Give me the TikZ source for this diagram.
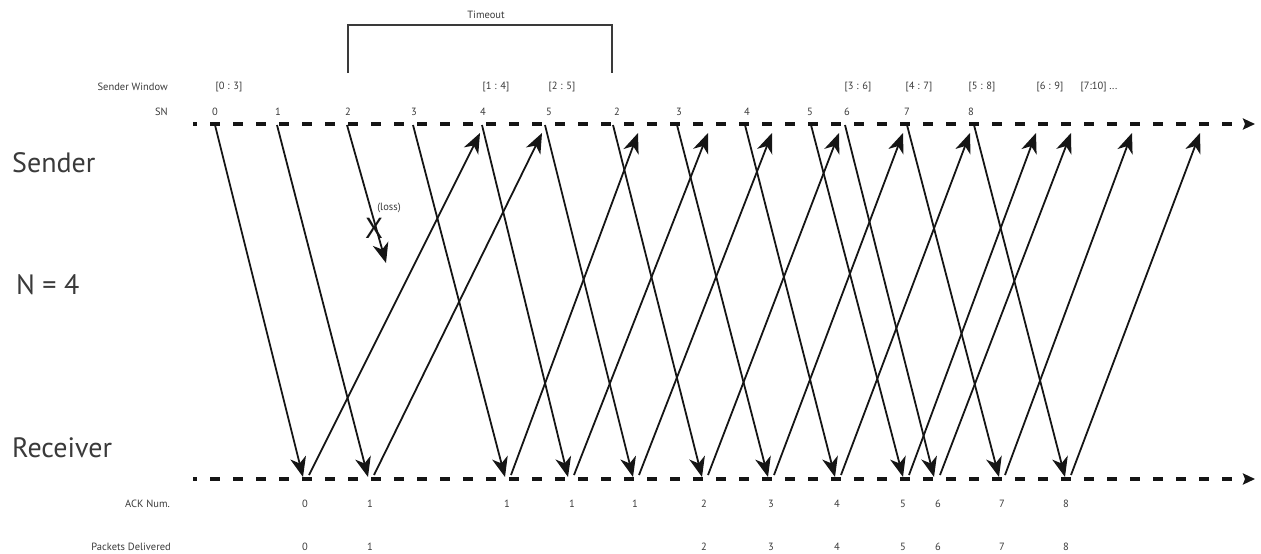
\documentclass[tikz,border=0pt]{standalone}
\usepackage{fontspec}
\setmainfont{PT Sans}
\usetikzlibrary{arrows.meta}
\definecolor{ink}{HTML}{151515}
\definecolor{txt}{HTML}{3A3A3A}
\begin{document}
\begin{tikzpicture}[x=1pt,y=-1pt,
  lbl/.style={font=\fontsize{10.5}{12}\selectfont, text=txt, inner sep=0pt},
  rlbl/.style={lbl, anchor=east},
  big/.style={font=\fontsize{28}{32}\selectfont, text=txt, inner sep=0pt, anchor=west},
  timeline/.style={draw=ink, line width=3.8pt, dash pattern=on 10pt off 13pt, dash phase=6pt,
     -{Stealth[length=12pt,width=11pt,inset=2pt]}},
  msg/.style={draw=ink, line width=1.8pt, -{Stealth[length=20pt,width=16pt,inset=6pt]}},
  brk/.style={draw=txt, line width=1.3pt},
]
\useasboundingbox (0,0) rectangle (1261,554);

% timelines
\coordinate (sL) at (193,124); \coordinate (sR) at (1255,124);
\coordinate (rL) at (193,479); \coordinate (rR) at (1255,479);
\draw[timeline] (sL) -- (sR);
\draw[timeline] (rL) -- (rR);

% left labels
\node[big] (sender) at (12,163) {Sender};
\node[big] (nfour) at (16,285) {N = 4};
\node[big] (receiver) at (12,448) {Receiver};

\node[rlbl] (swin) at (168,87) {Sender Window};
\node[rlbl] (sn) at (168,112) {SN};
\node[rlbl] (ackn) at (170,504) {ACK Num.};
\node[rlbl] (pdel) at (171,547) {Packets Delivered};

% timeout bracket
\coordinate (tL) at (348,73); \coordinate (tTop) at (480,25); \coordinate (tR) at (612,73);
\draw[brk] (tL) |- (tTop) -| (tR);
\node[lbl] (timeout) at (486,15) {Timeout};

% sender windows
\foreach \x/\t [count=\i] in {229/{[0 : 3]},496/{[1 : 4]},562/{[2 : 5]},858/{[3 : 6]},919/{[4 : 7]},982/{[5 : 8]},1050/{[6 : 9]},1099/{[7:10] ...}}
  \node[lbl] (w\i) at (\x,87) {\t};

% SN labels
\foreach \x/\t [count=\i] in {215/0,278/1,348/2,414/3,483/4,549/5,617/2,679/3,747/4,810/5,847/6,907/7,971/8}
  \node[lbl] (snl\i) at (\x,112) {\t};

% ACK labels
\foreach \x/\t [count=\i] in {305/0,370/1,507/1,572/1,635/1,704/2,771/3,837/4,903/5,938/6,1002/7,1066/8}
  \node[lbl] (ack\i) at (\x,504) {\t};

% delivered labels
\foreach \x/\t [count=\i] in {305/0,370/1,704/2,771/3,837/4,903/5,938/6,1002/7,1066/8}
  \node[lbl] (del\i) at (\x,547) {\t};

% data packets and ACKs
\foreach \xs/\xe/\xt [count=\i] in {215/303/480, 277/368/542, 413/505/638, 482/568/708, 545/633/772, 613/702/839, 677/768/903, 745/835/970, 811/903/1036, 845/934/1071, 907/999/1132, 974/1065/1200}
{
  \coordinate (ds\i) at (\xs,125);
  \coordinate (de\i) at (\xe,477);
  \coordinate (as\i) at ({\xe+6},475);
  \coordinate (ae\i) at (\xt,133);
  \draw[msg] (ds\i) -- (de\i);
  \draw[msg] (as\i) -- (ae\i);
}

% lost packet
\coordinate (ls) at (347,125);
\coordinate (le) at (386,263);
\draw[msg] (ls) -- (le);
\node[font=\fontsize{29}{32}\selectfont, text=ink, inner sep=0pt] (x) at (374,228) {X};
\node[lbl] (loss) at (389,208) {(loss)};
\end{tikzpicture}
\end{document}
